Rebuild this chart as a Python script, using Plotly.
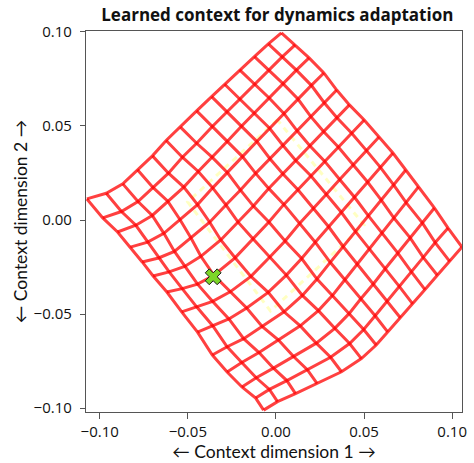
import plotly.graph_objects as go

# Grid nodes of the learned context map: rows[a][b] = (x, y)
grid_x = [
    [-0.1073, -0.0963, -0.0869, -0.0786, -0.0701, -0.0623, -0.0542, -0.0450, -0.0365, -0.0291, -0.0206, -0.0122, -0.0043, 0.0031],
    [-0.0983, -0.0877, -0.0783, -0.0698, -0.0610, -0.0531, -0.0450, -0.0361, -0.0278, -0.0206, -0.0122, -0.0040, 0.0037, 0.0109],
    [-0.0899, -0.0795, -0.0702, -0.0614, -0.0523, -0.0441, -0.0361, -0.0274, -0.0193, -0.0121, -0.0040, 0.0040, 0.0116, 0.0188],
    [-0.0826, -0.0728, -0.0636, -0.0545, -0.0445, -0.0359, -0.0275, -0.0190, -0.0108, -0.0036, 0.0045, 0.0125, 0.0201, 0.0272],
    [-0.0759, -0.0666, -0.0576, -0.0482, -0.0376, -0.0284, -0.0201, -0.0115, -0.0034, 0.0038, 0.0118, 0.0196, 0.0273, 0.0345],
    [-0.0697, -0.0606, -0.0518, -0.0426, -0.0313, -0.0216, -0.0128, -0.0041, 0.0039, 0.0111, 0.0191, 0.0269, 0.0345, 0.0417],
    [-0.0619, -0.0532, -0.0445, -0.0352, -0.0232, -0.0129, -0.0040, 0.0045, 0.0125, 0.0198, 0.0276, 0.0354, 0.0429, 0.0501],
    [-0.0535, -0.0449, -0.0359, -0.0260, -0.0142, -0.0036, 0.0052, 0.0134, 0.0213, 0.0285, 0.0362, 0.0438, 0.0514, 0.0585],
    [-0.0445, -0.0359, -0.0267, -0.0166, -0.0044, 0.0059, 0.0146, 0.0223, 0.0299, 0.0371, 0.0445, 0.0520, 0.0593, 0.0664],
    [-0.0361, -0.0277, -0.0183, -0.0077, 0.0046, 0.0150, 0.0233, 0.0308, 0.0381, 0.0452, 0.0524, 0.0598, 0.0668, 0.0737],
    [-0.0277, -0.0194, -0.0096, 0.0013, 0.0138, 0.0241, 0.0320, 0.0390, 0.0461, 0.0531, 0.0600, 0.0671, 0.0740, 0.0809],
    [-0.0193, -0.0112, -0.0014, 0.0100, 0.0229, 0.0334, 0.0415, 0.0482, 0.0554, 0.0621, 0.0692, 0.0762, 0.0831, 0.0899],
    [-0.0115, -0.0037, 0.0062, 0.0178, 0.0310, 0.0418, 0.0498, 0.0563, 0.0633, 0.0701, 0.0768, 0.0836, 0.0904, 0.0977],
    [-0.0070, 0.0009, 0.0111, 0.0233, 0.0372, 0.0485, 0.0569, 0.0634, 0.0706, 0.0776, 0.0846, 0.0916, 0.0986, 0.1056],
]
grid_y = [
    [0.0112, 0.0142, 0.0192, 0.0267, 0.0341, 0.0423, 0.0494, 0.0580, 0.0656, 0.0722, 0.0798, 0.0869, 0.0937, 0.0995],
    [0.0011, 0.0045, 0.0098, 0.0173, 0.0249, 0.0334, 0.0408, 0.0497, 0.0575, 0.0644, 0.0723, 0.0798, 0.0869, 0.0931],
    [-0.0064, -0.0028, 0.0024, 0.0100, 0.0175, 0.0258, 0.0333, 0.0420, 0.0501, 0.0571, 0.0650, 0.0725, 0.0797, 0.0862],
    [-0.0144, -0.0118, -0.0071, 0.0003, 0.0082, 0.0171, 0.0251, 0.0337, 0.0417, 0.0488, 0.0567, 0.0643, 0.0716, 0.0782],
    [-0.0223, -0.0202, -0.0167, -0.0096, -0.0012, 0.0080, 0.0159, 0.0248, 0.0326, 0.0399, 0.0477, 0.0552, 0.0625, 0.0691],
    [-0.0298, -0.0276, -0.0247, -0.0193, -0.0106, -0.0010, 0.0074, 0.0168, 0.0246, 0.0318, 0.0396, 0.0472, 0.0545, 0.0612],
    [-0.0383, -0.0365, -0.0341, -0.0294, -0.0201, -0.0101, -0.0011, 0.0083, 0.0161, 0.0235, 0.0313, 0.0388, 0.0463, 0.0532],
    [-0.0489, -0.0463, -0.0433, -0.0382, -0.0300, -0.0198, -0.0112, -0.0019, 0.0060, 0.0135, 0.0215, 0.0294, 0.0369, 0.0441],
    [-0.0596, -0.0562, -0.0526, -0.0468, -0.0385, -0.0293, -0.0205, -0.0118, -0.0036, 0.0041, 0.0122, 0.0202, 0.0280, 0.0356],
    [-0.0718, -0.0674, -0.0631, -0.0567, -0.0488, -0.0401, -0.0314, -0.0225, -0.0141, -0.0062, 0.0023, 0.0106, 0.0187, 0.0266],
    [-0.0808, -0.0758, -0.0705, -0.0637, -0.0563, -0.0482, -0.0402, -0.0319, -0.0235, -0.0154, -0.0069, 0.0009, 0.0091, 0.0176],
    [-0.0888, -0.0839, -0.0788, -0.0726, -0.0655, -0.0576, -0.0498, -0.0419, -0.0339, -0.0258, -0.0176, -0.0095, -0.0015, 0.0064],
    [-0.0947, -0.0901, -0.0854, -0.0796, -0.0730, -0.0657, -0.0582, -0.0509, -0.0431, -0.0354, -0.0275, -0.0199, -0.0120, -0.0043],
    [-0.1011, -0.0966, -0.0923, -0.0869, -0.0807, -0.0737, -0.0665, -0.0595, -0.0520, -0.0446, -0.0370, -0.0294, -0.0220, -0.0144],
]

# Training region outline (faint dashed)
region_x = [0.0008, -0.0501, -0.0031, 0.0501, 0.0008]
region_y = [0.0532, 0.0096, -0.0484, -0.0027, 0.0532]

# Current context estimate
marker_x = [-0.0356]
marker_y = [-0.0302]

x_ticks = [-0.10, -0.05, 0.00, 0.05, 0.10]
y_ticks = [-0.10, -0.05, 0.00, 0.05, 0.10]

title_text = "Learned context for dynamics adaptation"
x_title = "\u2190 Context dimension 1 \u2192"
y_title = "\u2190 Context dimension 2 \u2192"

FONT = "Open Sans"
TITLE_AXIS_FONT = "Lato"
GRID_COLOR = "rgba(255,0,0,0.75)"

fig = go.Figure()

fig.add_trace(go.Scatter(
    x=region_x, y=region_y, mode="lines",
    line=dict(color="rgba(255,255,120,0.45)", width=3, dash="6px,5px"),
    hoverinfo="skip", showlegend=False,
))

n_rows = len(grid_x)
n_cols = len(grid_x[0])
for a in range(n_rows):
    fig.add_trace(go.Scatter(
        x=grid_x[a], y=grid_y[a], mode="lines",
        line=dict(color=GRID_COLOR, width=3),
        hoverinfo="skip", showlegend=False,
    ))
for b in range(n_cols):
    fig.add_trace(go.Scatter(
        x=[grid_x[a][b] for a in range(n_rows)],
        y=[grid_y[a][b] for a in range(n_rows)],
        mode="lines",
        line=dict(color=GRID_COLOR, width=3),
        hoverinfo="skip", showlegend=False,
    ))

fig.add_trace(go.Scatter(
    x=marker_x, y=marker_y, mode="markers",
    marker=dict(symbol="x", size=14, color="rgb(124,214,40)",
                line=dict(color="#1a1a1a", width=1)),
    hoverinfo="skip", showlegend=False,
))

axis_common = dict(
    showgrid=False, zeroline=False,
    showline=True, mirror=True, linecolor="#555555", linewidth=1.3,
    ticks="outside", tickwidth=1.2, tickcolor="#555555",
    tickformat=".2f",
    tickfont=dict(family=FONT, size=15, color="#111111"),
)

fig.update_layout(
    width=474, height=463,
    margin=dict(l=86, r=7, t=31, b=51),
    paper_bgcolor="white", plot_bgcolor="white",
    title=dict(text="<b>" + title_text + "</b>", x=0.585, xanchor="center",
               y=0.967, yanchor="middle",
               font=dict(family=FONT, size=17, color="#111111")),
    xaxis=dict(range=[-0.1078, 0.1056], tickvals=x_ticks, ticklen=6,
               title=dict(text=x_title, font=dict(family=TITLE_AXIS_FONT, size=17.5, color="#111111"), standoff=3),
               **axis_common),
    yaxis=dict(range=[-0.1021, 0.1005], tickvals=y_ticks, ticklen=5,
               ticklabelstandoff=5,
               title=dict(text=y_title, font=dict(family=TITLE_AXIS_FONT, size=17.5, color="#111111"), standoff=1),
               **axis_common),
)

fig.write_html(
    "out.html",
    config={"displayModeBar": False},
    post_script="document.body.style.margin='0';document.body.style.overflow='hidden';",
)
